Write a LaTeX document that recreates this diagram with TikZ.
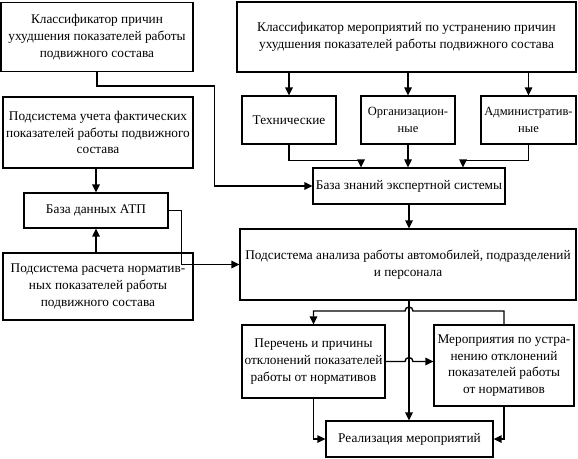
\documentclass[tikz,border=0pt]{standalone}
\usepackage{fontspec}
\setmainfont{Liberation Serif}
\usetikzlibrary{arrows.meta}
\begin{document}
\begin{tikzpicture}[x=1pt,y=-1pt,
  box/.style={draw, line width=1.3pt, align=center, inner sep=0pt, fill=white,
    font=\fontsize{13.3}{16.8}\selectfont},
  narrow/.style={font=\fontsize{12.5}{17}\selectfont},
  conn/.style={line width=1.4pt},
  arr/.style={conn, -{Triangle[length=8pt,width=7.5pt]}}]
\useasboundingbox (0,0) rectangle (578,458);
\fill[white] (0,0) rectangle (578,458);
% boxes
\node[box, minimum width=192pt, minimum height=69pt] (b1) at (97,37)
  {Классификатор причин\\ухудшения показателей работы\\подвижного состава};
\node[box, minimum width=339pt, minimum height=70pt] (b2) at (406.5,37)
  {Классификатор мероприятий по устранению причин\\ухудшения показателей работы подвижного состава};
\node[box, minimum width=94pt, minimum height=48pt] (tech) at (289,120) {Технические};
\node[box, narrow, minimum width=94pt, minimum height=48pt] (org) at (408,120) {Организацион-\\ные};
\node[box, narrow, minimum width=95pt, minimum height=48pt] (adm) at (528.5,120) {Административ-\\ные};
\node[box, minimum width=192pt, minimum height=36pt] (kb) at (409,186) {База знаний экспертной системы};
\node[box, minimum width=190pt, minimum height=71pt] (uch) at (98,132.5)
  {Подсистема учета фактических\\показателей работы подвижного\\состава};
\node[box, minimum width=144pt, minimum height=35pt] (atp) at (96,210.5) {База данных АТП};
\node[box, minimum width=190pt, minimum height=67pt] (ras) at (98,286.5)
  {Подсистема расчета норматив-\\ных показателей работы\\подвижного состава};
\node[box, minimum width=336pt, minimum height=71pt] (an) at (408,264.5)
  {Подсистема анализа работы автомобилей, подразделений\\и персонала};
\node[box, minimum width=143pt, minimum height=73pt] (per) at (313.5,361.5)
  {Перечень и причины\\отклонений показателей\\работы от нормативов};
\node[box, minimum width=140pt, minimum height=81pt] (mer) at (504,365.5)
  {Мероприятия по устра-\\нению отклонений\\показателей работы\\от нормативов};
\node[box, minimum width=167pt, minimum height=36pt] (real) at (409.5,439) {Реализация мероприятий};
% helper coordinates
\coordinate (hy) at (0,311);
\coordinate (j1) at (413,311);
\coordinate (j2) at (405,361.5);
% connectors
\draw[arr] (b2.south -| tech.north) -- (tech.north);
\draw[arr] (b2.south -| org.north) -- (org.north);
\draw[arr] (b2.south -| adm.north) -- (adm.north);
\draw[arr] (tech.south) -- ++(0,16) -| ([xshift=-48pt]kb.north);
\draw[arr] (org.south) -- (org.south |- kb.north);
\draw[arr] (adm.south) -- ++(0,16) -| ([xshift=54pt]kb.north);
\draw[arr] (b1.south) -- ++(0,14) -| ([xshift=-98pt]kb.west) -- (kb.west);
\draw[arr] (atp.north |- uch.south) -- (atp.north);
\draw[arr] (atp.south |- ras.north) -- (atp.south);
\draw[arr] (atp.east) -- ++(13,0) |- (an.west);
\draw[arr] (kb.south) -- (kb.south |- an.north);
\draw[arr] (kb.south |- an.south) -- (kb.south |- real.north);
\draw[arr] (mer.north) -- (mer.north |- hy) -- (j1)
  arc[start angle=0, end angle=180, radius=4pt] -- (per.north |- hy) -- (per.north);
\draw[arr] (per.east) -- (j2)
  arc[start angle=180, end angle=0, radius=4pt] -- (mer.west |- per.east);
\draw[arr] (per.south) |- (real.west);
\draw[arr] (mer.south) |- (real.east);
\end{tikzpicture}
\end{document}
